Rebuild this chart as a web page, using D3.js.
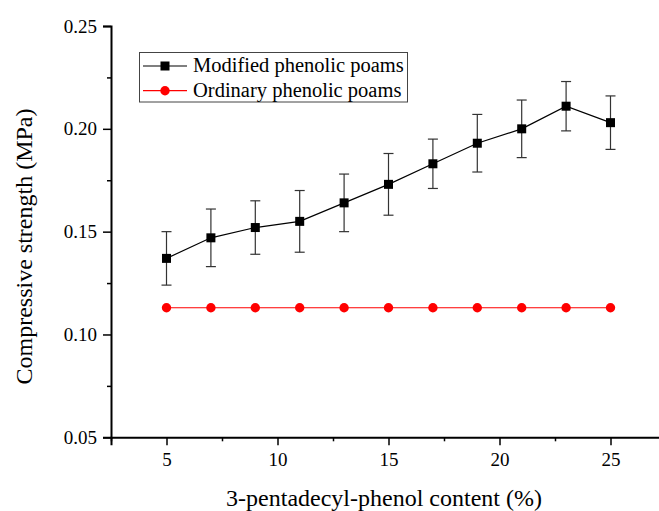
<!DOCTYPE html>
<html>
<head>
<meta charset="utf-8">
<script src="https://cdn.jsdelivr.net/npm/d3@7"></script>
<style>
  html, body { margin: 0; padding: 0; background: #fff; }
  svg { display: block; font-family: "Liberation Serif", "Times New Roman", serif; }
</style>
</head>
<body>
<svg id="chart" width="659" height="511"></svg>
<script>
// Phenol content (%) on the x axis
const content = [5, 7, 9, 11, 13, 15, 17, 19, 21, 23, 25];
// Compressive strength (MPa) of modified foams, with error bar limits
const modified = [0.137, 0.147, 0.152, 0.155, 0.164, 0.173, 0.183, 0.193, 0.200, 0.211, 0.203];
const modifiedLow = [0.124, 0.133, 0.139, 0.140, 0.150, 0.158, 0.171, 0.179, 0.186, 0.199, 0.190];
const modifiedHigh = [0.150, 0.161, 0.165, 0.170, 0.178, 0.188, 0.195, 0.207, 0.214, 0.223, 0.216];
// Ordinary foams stay constant
const ordinary = [0.113, 0.113, 0.113, 0.113, 0.113, 0.113, 0.113, 0.113, 0.113, 0.113, 0.113];

const xMajor = [5, 10, 15, 20, 25];
const xMinor = [2.5, 7.5, 12.5, 17.5, 22.5, 27.5];
const yMajor = [0.05, 0.10, 0.15, 0.20, 0.25];
const yMinor = [0.075, 0.125, 0.175, 0.225];

const seriesNames = ["Modified phenolic poams", "Ordinary phenolic poams"];
const xTitle = "3-pentadecyl-phenol content (%)";
const yTitle = "Compressive strength (MPa)";

const svg = d3.select("#chart");
const plotLeft = 111, plotTop = 26, plotRight = 666, plotBottom = 437.3;
const serif = "'Liberation Serif', 'Times New Roman', serif";

const x = d3.scaleLinear().domain([2.5, 27.5]).range([plotLeft, plotRight]);
const y = d3.scaleLinear().domain([0.05, 0.25]).range([plotBottom, plotTop]);

// Axes: major ticks with labels, minor ticks without
function styleAxis(g) {
  g.attr("font-family", serif);
  g.select(".domain").attr("stroke", "#000").attr("stroke-width", 2);
  g.selectAll(".tick line").attr("stroke", "#000").attr("stroke-width", 1.5);
  g.selectAll(".tick text").attr("font-size", 19).attr("fill", "#000");
}

const xAxisG = svg.append("g").attr("transform", `translate(0,${plotBottom})`)
  .call(d3.axisBottom(x).tickValues(xMajor).tickSize(8).tickPadding(7).tickFormat(d3.format("d")));
styleAxis(xAxisG);
const xMinorG = svg.append("g").attr("transform", `translate(0,${plotBottom})`)
  .call(d3.axisBottom(x).tickValues(xMinor).tickSize(4).tickFormat(""));
xMinorG.select(".domain").remove();
xMinorG.selectAll(".tick line").attr("stroke", "#000").attr("stroke-width", 1.5);

const yAxisG = svg.append("g").attr("transform", `translate(${plotLeft},0)`)
  .call(d3.axisLeft(y).tickValues(yMajor).tickSize(8).tickPadding(6).tickFormat(d3.format(".2f")));
styleAxis(yAxisG);
const yMinorG = svg.append("g").attr("transform", `translate(${plotLeft},0)`)
  .call(d3.axisLeft(y).tickValues(yMinor).tickSize(4).tickFormat(""));
yMinorG.select(".domain").remove();
yMinorG.selectAll(".tick line").attr("stroke", "#000").attr("stroke-width", 1.5);

// Axis titles
svg.append("text")
  .attr("x", 384).attr("y", 506)
  .attr("text-anchor", "middle").attr("font-family", serif).attr("font-size", 24).attr("fill", "#000")
  .text(xTitle);
svg.append("text")
  .attr("transform", "translate(32,246.5) rotate(-90)")
  .attr("text-anchor", "middle").attr("font-family", serif).attr("font-size", 24).attr("fill", "#000")
  .text(yTitle);

const pts = content.map((c, i) => ({ c, v: modified[i], lo: modifiedLow[i], hi: modifiedHigh[i], o: ordinary[i] }));

// Ordinary series: red line with circles
svg.append("path")
  .datum(pts)
  .attr("fill", "none").attr("stroke", "#ff0000").attr("stroke-width", 1.2)
  .attr("d", d3.line().x(d => x(d.c)).y(d => y(d.o)));
svg.append("g").selectAll("circle").data(pts).join("circle")
  .attr("cx", d => x(d.c)).attr("cy", d => y(d.o)).attr("r", 4.7)
  .attr("fill", "#ff0000");

// Modified series: error bars, line and square markers
const eb = svg.append("g").attr("stroke", "#333").attr("stroke-width", 1.2);
eb.selectAll("line.v").data(pts).join("line").attr("class", "v")
  .attr("x1", d => x(d.c)).attr("x2", d => x(d.c))
  .attr("y1", d => y(d.lo)).attr("y2", d => y(d.hi));
eb.selectAll("line.t").data(pts).join("line").attr("class", "t")
  .attr("x1", d => x(d.c) - 5).attr("x2", d => x(d.c) + 5)
  .attr("y1", d => y(d.hi)).attr("y2", d => y(d.hi));
eb.selectAll("line.b").data(pts).join("line").attr("class", "b")
  .attr("x1", d => x(d.c) - 5).attr("x2", d => x(d.c) + 5)
  .attr("y1", d => y(d.lo)).attr("y2", d => y(d.lo));

svg.append("path")
  .datum(pts)
  .attr("fill", "none").attr("stroke", "#000").attr("stroke-width", 1.2)
  .attr("d", d3.line().x(d => x(d.c)).y(d => y(d.v)));
svg.append("g").selectAll("rect").data(pts).join("rect")
  .attr("x", d => x(d.c) - 4.5).attr("y", d => y(d.v) - 4.5)
  .attr("width", 9).attr("height", 9).attr("fill", "#000");

// Legend
const lg = svg.append("g").attr("font-family", serif);
lg.append("rect").attr("x", 139.5).attr("y", 52.5).attr("width", 268).attr("height", 49.5)
  .attr("fill", "#fff").attr("stroke", "#444").attr("stroke-width", 1);
const rows = [
  { name: seriesNames[0], color: "#000", shape: "square", y: 66 },
  { name: seriesNames[1], color: "#ff0000", shape: "circle", y: 90.7 }
];
rows.forEach(r => {
  lg.append("line").attr("x1", 143).attr("x2", 187).attr("y1", r.y).attr("y2", r.y)
    .attr("stroke", r.color).attr("stroke-width", 1.2);
  if (r.shape === "square") {
    lg.append("rect").attr("x", 165 - 4.5).attr("y", r.y - 4.5).attr("width", 9).attr("height", 9).attr("fill", r.color);
  } else {
    lg.append("circle").attr("cx", 165).attr("cy", r.y).attr("r", 4.7).attr("fill", r.color);
  }
  lg.append("text").attr("x", 193).attr("y", r.y + 6).attr("font-size", 20.5).attr("fill", "#000").text(r.name);
});
</script>
</body>
</html>
